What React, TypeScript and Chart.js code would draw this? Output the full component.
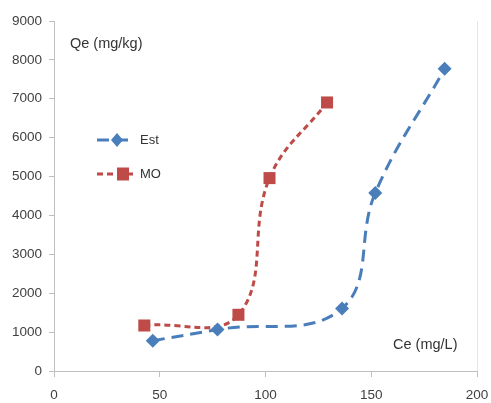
import React, { useEffect, useRef } from "react";
import { Chart, registerables } from "chart.js";

Chart.register(...registerables);

const estCe = [46.7, 77.3, 136.2, 151.9, 184.7];
const estQe = [780, 1065, 1610, 4580, 7770];
const moCe = [42.7, 87.2, 101.9, 129.1];
const moQe = [1170, 1445, 4960, 6905];

const seriesNames = ["Est", "MO"];
const xTitle = "Ce (mg/L)";
const yTitle = "Qe (mg/kg)";

const BLUE = "#4a7ebb";
const RED = "#be4b48";
const FONT = '"Liberation Sans", Arial, sans-serif';

const overlayPlugin = {
  id: "overlay",
  afterDraw(chart: any) {
    const ctx = chart.ctx;
    const area = chart.chartArea;
    ctx.save();
    // faint right border
    ctx.strokeStyle = "#e6e6e6";
    ctx.lineWidth = 1;
    ctx.beginPath();
    ctx.moveTo(area.right + 0.5, area.top);
    ctx.lineTo(area.right + 0.5, area.bottom);
    ctx.stroke();

    // axis titles
    ctx.fillStyle = "#333333";
    ctx.textBaseline = "middle";
    ctx.textAlign = "left";
    ctx.font = `14.5px ${FONT}`;
    ctx.fillText(yTitle, 70, 44);
    ctx.fillText(xTitle, 393, 345);

    // legend
    const items = [
      { name: seriesNames[0], color: BLUE, dash: [12, 7], y: 140, x0: 97, x1: 128, mx: 117, style: "rectRot" },
      { name: seriesNames[1], color: RED, dash: [6, 4], y: 174, x0: 97, x1: 137, mx: 123, style: "rect" },
    ];
    for (const it of items) {
      ctx.strokeStyle = it.color;
      ctx.lineWidth = 3;
      ctx.setLineDash(it.dash);
      ctx.beginPath();
      ctx.moveTo(it.x0, it.y);
      ctx.lineTo(it.x1, it.y);
      ctx.stroke();
      ctx.setLineDash([]);
      ctx.fillStyle = it.color;
      ctx.beginPath();
      if (it.style === "rectRot") {
        ctx.moveTo(it.mx, it.y - 7);
        ctx.lineTo(it.mx + 6, it.y);
        ctx.lineTo(it.mx, it.y + 7);
        ctx.lineTo(it.mx - 6, it.y);
        ctx.closePath();
      } else {
        ctx.rect(it.mx - 6, it.y - 6.5, 12, 13);
      }
      ctx.fill();
      ctx.fillStyle = "#333333";
      ctx.font = `13px ${FONT}`;
      ctx.fillText(it.name, 140, it.y);
    }
    ctx.restore();
  },
};

export default function App() {
  const ref = useRef<HTMLCanvasElement | null>(null);
  useEffect(() => {
    if (!ref.current) return;
    const chart = new Chart(ref.current, {
      type: "line",
      data: {
        datasets: [
          {
            label: seriesNames[0],
            data: estCe.map((x, i) => ({ x, y: estQe[i] })),
            borderColor: BLUE,
            backgroundColor: BLUE,
            borderWidth: 3,
            borderDash: [12, 7],
            tension: 0.4,
            pointStyle: "rectRot",
            pointRadius: 7,
            pointBorderWidth: 0,
            fill: false,
          },
          {
            label: seriesNames[1],
            data: moCe.map((x, i) => ({ x, y: moQe[i] })),
            borderColor: RED,
            backgroundColor: RED,
            borderWidth: 3,
            borderDash: [6, 4],
            tension: 0.4,
            pointStyle: "rect",
            pointRadius: 8.5,
            pointBorderWidth: 0,
            fill: false,
          },
        ],
      },
      options: {
        responsive: false,
        animation: false,
        layout: { padding: { top: 21, right: 14, bottom: 0, left: 0 } },
        plugins: { legend: { display: false }, tooltip: { enabled: false } },
        scales: {
          x: {
            type: "linear",
            min: 0,
            max: 200,
            afterFit: (s: any) => {
              s.height = 32;
              s.paddingLeft = 0;
              s.paddingRight = 0;
            },
            ticks: {
              stepSize: 50,
              padding: 10,
              color: "#404040",
              font: { family: FONT, size: 13.5 },
              callback: (v: any) => String(v),
            },
            grid: {
              display: true,
              drawOnChartArea: false,
              drawTicks: true,
              tickLength: 6,
              color: "#bfbfbf",
            },
            border: { display: true, color: "#bfbfbf", width: 1 },
          },
          y: {
            type: "linear",
            min: 0,
            max: 9000,
            afterFit: (s: any) => {
              s.width = 54;
              s.paddingTop = 0;
              s.paddingBottom = 0;
            },
            ticks: {
              stepSize: 1000,
              padding: 7,
              color: "#404040",
              font: { family: FONT, size: 13.5 },
              callback: (v: any) => String(v),
            },
            grid: {
              display: true,
              drawOnChartArea: false,
              drawTicks: true,
              tickLength: 5,
              color: "#bfbfbf",
            },
            border: { display: true, color: "#bfbfbf", width: 1 },
          },
        },
      },
      plugins: [overlayPlugin],
    });
    return () => chart.destroy();
  }, []);
  return (
    <div style={{ position: "fixed", left: 0, top: 0, width: 491, height: 403, background: "#fff" }}>
      <canvas ref={ref} width={491} height={403} style={{ display: "block", width: 491, height: 403 }} />
    </div>
  );
}
